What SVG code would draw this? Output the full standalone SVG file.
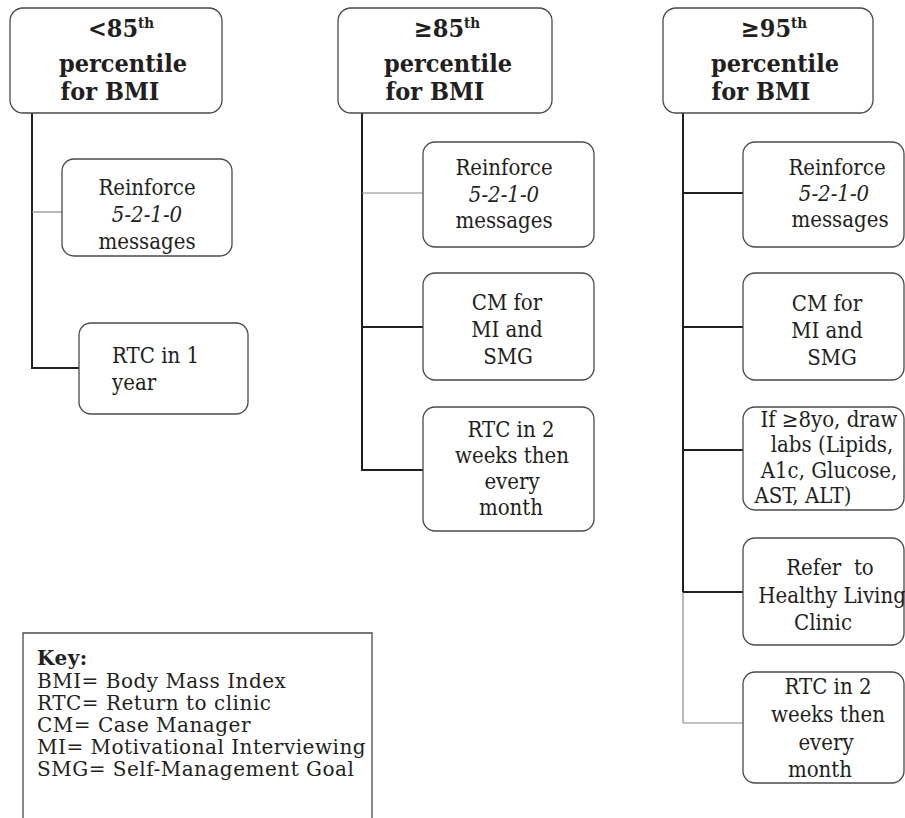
<svg xmlns="http://www.w3.org/2000/svg" width="905" height="818" viewBox="0 0 905 818">
<style>
text{font-family:"DejaVu Serif Condensed","DejaVu Serif","Liberation Serif",serif;fill:#231f20}
.t{font-size:25px;font-weight:bold;text-anchor:middle}
.b{font-size:22px;text-anchor:middle}
.k{font-size:22px}
.key{font-family:"DejaVu Serif","Liberation Serif",serif;font-size:20px;letter-spacing:0.5px}
.i{font-style:italic}
.box{fill:#fff;stroke:#4a4a4a;stroke-width:1.3}
.thick{stroke:#231f20;stroke-width:2;fill:none}
.thin{stroke:#8a8a8a;stroke-width:1.2;fill:none}
</style>
<rect width="905" height="818" fill="#fff"/>
<g id="connectors">
<line class="thick" x1="32" y1="113" x2="32" y2="369"/>
<line class="thin" x1="32" y1="212" x2="62" y2="212"/>
<line class="thick" x1="31" y1="368" x2="79" y2="368"/>
<line class="thick" x1="362" y1="113" x2="362" y2="471"/>
<line class="thin" x1="362" y1="193" x2="423" y2="193"/>
<line class="thick" x1="362" y1="327" x2="423" y2="327"/>
<line class="thick" x1="361" y1="470" x2="423" y2="470"/>
<line class="thick" x1="683" y1="113" x2="683" y2="592"/>
<line class="thin" x1="683" y1="592" x2="683" y2="723"/>
<line class="thick" x1="683" y1="193" x2="743" y2="193"/>
<line class="thick" x1="683" y1="327" x2="743" y2="327"/>
<line class="thick" x1="683" y1="450" x2="743" y2="450"/>
<line class="thick" x1="683" y1="592" x2="743" y2="592"/>
<line class="thin" x1="683" y1="723" x2="743" y2="723"/>
</g>
<g id="top1">
<rect class="box" x="10" y="8" width="212" height="105" rx="13"/>
<text class="t" x="121" y="37">&lt;85<tspan font-size="15" dy="-9">th</tspan></text>
<text class="t" x="123" y="72">percentile</text>
<text class="t" x="110" y="100">for BMI</text>
</g>
<g id="top2">
<rect class="box" x="338" y="8" width="214" height="105" rx="13"/>
<text class="t" x="447" y="37">≥85<tspan font-size="15" dy="-9">th</tspan></text>
<text class="t" x="448" y="72">percentile</text>
<text class="t" x="435" y="100">for BMI</text>
</g>
<g id="top3">
<rect class="box" x="663" y="8" width="210" height="105" rx="13"/>
<text class="t" x="774" y="37">≥95<tspan font-size="15" dy="-9">th</tspan></text>
<text class="t" x="775" y="72">percentile</text>
<text class="t" x="761" y="100">for BMI</text>
</g>
<g id="c1-reinforce">
<rect class="box" x="62" y="159" width="170" height="97" rx="12"/>
<text class="b" x="147" y="195">Reinforce</text>
<text class="b i" x="147" y="222">5-2-1-0</text>
<text class="b" x="147" y="249">messages</text>
</g>
<g id="c1-rtc">
<rect class="box" x="79" y="323" width="169" height="91" rx="12"/>
<text class="k" x="112" y="363">RTC in 1</text>
<text class="k" x="112" y="390">year</text>
</g>
<g id="c2-reinforce">
<rect class="box" x="423" y="142" width="171" height="105" rx="12"/>
<text class="b" x="504" y="175">Reinforce</text>
<text class="b i" x="504" y="202">5-2-1-0</text>
<text class="b" x="504" y="228">messages</text>
</g>
<g id="c2-cm">
<rect class="box" x="423" y="273" width="171" height="107" rx="12"/>
<text class="b" x="507" y="310">CM for</text>
<text class="b" x="507" y="337">MI and</text>
<text class="b" x="508" y="364">SMG</text>
</g>
<g id="c2-rtc">
<rect class="box" x="423" y="407" width="171" height="124" rx="12"/>
<text class="b" x="511" y="437">RTC in 2</text>
<text class="b" x="512" y="463">weeks then</text>
<text class="b" x="512" y="489">every</text>
<text class="b" x="511" y="515">month</text>
</g>
<g id="c3-reinforce">
<rect class="box" x="743" y="142" width="161" height="105" rx="12"/>
<text class="b" x="837" y="175">Reinforce</text>
<text class="b i" x="834" y="201">5-2-1-0</text>
<text class="b" x="840" y="227">messages</text>
</g>
<g id="c3-cm">
<rect class="box" x="743" y="273" width="161" height="107" rx="12"/>
<text class="b" x="827" y="311">CM for</text>
<text class="b" x="827" y="338">MI and</text>
<text class="b" x="832" y="365">SMG</text>
</g>
<g id="c3-labs">
<rect class="box" x="743" y="407" width="161" height="103" rx="12"/>
<text class="b" x="829" y="427">If ≥8yo, draw</text>
<text class="b" x="832" y="452">labs (Lipids,</text>
<text class="b" x="829" y="478">A1c, Glucose,</text>
<text class="b" x="803" y="503">AST, ALT)</text>
</g>
<g id="c3-refer">
<rect class="box" x="743" y="538" width="161" height="107" rx="12"/>
<text class="b" x="830" y="575" xml:space="preserve">Refer  to</text>
<text class="b" x="832" y="603">Healthy Living</text>
<text class="b" x="823" y="630">Clinic</text>
</g>
<g id="c3-rtc">
<rect class="box" x="743" y="672" width="161" height="111" rx="12"/>
<text class="b" x="828" y="694">RTC in 2</text>
<text class="b" x="828" y="722">weeks then</text>
<text class="b" x="826" y="750">every</text>
<text class="b" x="820" y="777">month</text>
</g>
<g id="key">
<path d="M23 820 V633 H372 V820" fill="#fff" stroke="#4a4a4a" stroke-width="1.3"/>
<text class="key" x="37" y="665" font-weight="bold">Key:</text>
<text class="key" x="37" y="688">BMI= Body Mass Index</text>
<text class="key" x="37" y="710">RTC= Return to clinic</text>
<text class="key" x="37" y="732">CM= Case Manager</text>
<text class="key" x="37" y="754">MI= Motivational Interviewing</text>
<text class="key" x="37" y="776">SMG= Self-Management Goal</text>
</g>
</svg>
